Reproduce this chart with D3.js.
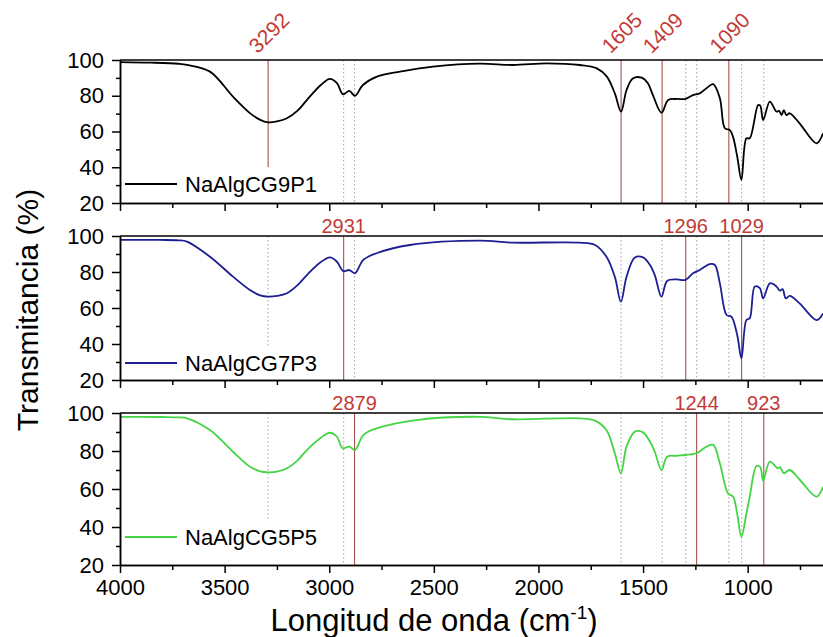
<!DOCTYPE html>
<html><head><meta charset="utf-8">
<script src="https://cdn.jsdelivr.net/npm/d3@7"></script>
<style>
body{margin:0;background:#fff}
svg{display:block}
text{font-family:"Liberation Sans", Arial, sans-serif}
</style>
</head><body><svg id="c" width="823" height="637"></svg>
<script>
// ---------- data ----------
const seriesNames = ["NaAlgCG9P1", "NaAlgCG7P3", "NaAlgCG5P5"];
const seriesColors = ["#000000", "#1e1e94", "#44d444"];

const wn1 = [4000,3850,3720,3680,3570,3460,3379,3330,3292,3250,3202,3150,3107,3040,2997,2963,2934,2904,2877,2839,2772,2662,2504,2280,2122,1960,1802,1721,1673,1635,1605,1579,1549,1507,1477,1453,1412,1380,1340,1297,1261,1229,1197,1165,1133,1109,1085,1070,1050,1030,1006,990,950,940,926,894,862,850,838,827,815,799,752,671,640];
const t1  = [98.8,98.5,97.9,97.3,93.5,79.5,70.3,66.5,65.1,65.6,67.4,71.8,77.6,86,89.4,87,80.8,82.7,80,86,90.7,93.5,96.3,98,97.2,98.1,97.2,95.3,90.7,81.3,71.1,83.2,89.7,90.1,87,80.4,70.5,77.6,78.2,78.2,80.4,81.3,84.2,86.5,78.6,61.8,60.8,57,46,32.9,56.2,56.2,74.8,74.5,66.4,76.7,71.1,71.5,69.2,72,69.2,70.2,64.6,53.4,59];

const wn2 = [4000,3809,3720,3680,3570,3460,3379,3330,3292,3250,3202,3150,3107,3040,2997,2963,2933,2904,2877,2837,2774,2614,2280,2122,1802,1730,1675,1635,1606,1579,1539,1500,1467,1444,1412,1385,1340,1297,1261,1229,1181,1157,1133,1101,1078,1050,1030,1006,990,966,942,926,894,862,846,833,818,799,752,671,640];
const t2  = [97.8,97.8,97.6,96.9,88.5,77.4,70,67,66.3,66.7,68.2,72.8,78.3,85.5,88.1,85.7,80.5,81.1,79.3,86.7,90.4,95,97.4,96.3,96.3,95,88.5,77.4,63.5,77.4,88.1,88.1,83.9,78.3,66.3,75,75.9,75.6,79.3,81.1,84.4,83.9,73.7,56.1,55.2,45,32,53.3,54.3,71.9,71,65.4,73.7,71.9,69.6,70.5,65.4,66.7,62.6,53.3,57];

const wn3 = [4000,3800,3720,3680,3570,3460,3379,3330,3292,3250,3202,3150,3107,3040,2997,2963,2936,2904,2877,2837,2774,2583,2280,2122,1802,1730,1675,1635,1606,1579,1539,1500,1467,1444,1412,1385,1340,1297,1245,1197,1165,1133,1094,1070,1050,1030,1006,990,958,940,926,894,855,845,827,799,752,671,640];
const t3  = [98,97.9,97.7,97.2,91,79.6,71.7,69.3,68.8,69.1,70.9,75.2,80.5,87,89.6,87.5,81.4,82.3,80.5,88.4,91.9,96.3,98,96.7,97.2,96,91,78.8,68.3,82.3,90.2,89.8,84.9,79.6,70,77,77.5,77.9,78.8,82.3,83.2,73.5,57.7,56,47,34.9,47.2,56,72.1,71.5,64.4,74.4,70.9,71.5,68.3,70,65,56,61.2];

// marked bands: each panel's own labelled peaks
const peaks1 = [3292, 1605, 1409, 1090];
const peaks2 = [2931, 1296, 1029];
const peaks3 = [2879, 1244, 923];

const xMajorTicks = [4000,3500,3000,2500,2000,1500,1000];
const xMinorTicks = [3750,3250,2750,2250,1750,1250,750];
const yMajorTicks = [20,40,60,80,100];
const yMinorTicks = [30,50,70,90];

const xLabel = "Longitud de onda (cm";
const yLabel = "Transmitancia (%)";

// ---------- layout ----------
const svg = d3.select("#c");
const X0 = 120, X1 = 823;
const x = d3.scaleLinear().domain([4000, 640]).range([X0, X1]);
const boxes = [[60, 203], [236, 380], [413, 565]];
const legendY = [184, 363, 537];
const lineFloor3292 = [40, 39, 44];

const allWn = [wn1, wn2, wn3], allT = [t1, t2, t3];
const allPeaks = [peaks1, peaks2, peaks3];
const everyPeak = [...peaks1, ...peaks2, ...peaks3];
const red = "#c23a36", redLine = "#a8504c";

boxes.forEach(([top, bottom], i) => {
  const y = d3.scaleLinear().domain([20, 100]).range([bottom, top]);
  const g = svg.append("g");

  const cid = "clip" + i;
  svg.append("clipPath").attr("id", cid).append("rect")
    .attr("x", X0).attr("y", top).attr("width", X1 - X0).attr("height", bottom - top);

  everyPeak.forEach(p => {
    const own = allPeaks[i].includes(p);
    const floor = p === 3292 ? lineFloor3292[i] : 20;
    g.append("line")
      .attr("x1", x(p)).attr("x2", x(p))
      .attr("y1", y(100)).attr("y2", y(floor))
      .attr("stroke", own ? redLine : "#9a9a9a")
      .attr("stroke-width", own ? 1.1 : 0.9)
      .attr("stroke-dasharray", own ? null : "1.5,2.5");
  });

  const pts = allWn[i].map((w, k) => [w, allT[i][k]]);
  g.append("path").datum(pts)
    .attr("clip-path", `url(#${cid})`)
    .attr("fill", "none")
    .attr("stroke", seriesColors[i])
    .attr("stroke-width", 1.8)
    .attr("stroke-linejoin", "round")
    .attr("d", d3.line().x(d => x(d[0])).y(d => y(d[1])).curve(d3.curveCatmullRom.alpha(0.5)));

  g.append("line").attr("x1", X0).attr("x2", X1).attr("y1", top).attr("y2", top)
    .attr("stroke", "#000").attr("stroke-width", 1.5);

  g.append("g").attr("transform", `translate(${X0},0)`)
    .call(d3.axisLeft(y).tickValues(yMajorTicks).tickSize(8).tickSizeOuter(0).tickPadding(8));
  g.append("g").attr("transform", `translate(${X0},0)`)
    .call(d3.axisLeft(y).tickValues(yMinorTicks).tickSize(4).tickSizeOuter(0).tickFormat(""));

  g.append("g").attr("transform", `translate(0,${bottom})`)
    .call(d3.axisBottom(x).tickValues(xMajorTicks).tickSize(8).tickSizeOuter(0).tickPadding(6)
      .tickFormat(i === 2 ? d3.format("d") : ""));
  g.append("g").attr("transform", `translate(0,${bottom})`)
    .call(d3.axisBottom(x).tickValues(xMinorTicks).tickSize(5).tickSizeOuter(0).tickFormat(""));

  g.selectAll(".domain").attr("stroke", "#000").attr("stroke-width", 1.5);
  g.selectAll(".tick line").attr("stroke", "#000").attr("stroke-width", 1.5);
  g.selectAll(".tick text").attr("font-size", 22).attr("fill", "#000")
    .attr("font-family", '"Liberation Sans", Arial, sans-serif');

  allPeaks[i].forEach(p => {
    if (i === 0) {
      g.append("text")
        .attr("transform", `translate(${x(p) + 6},${38}) rotate(-45)`)
        .attr("text-anchor", "middle")
        .attr("font-size", 21).attr("fill", red).text(p);
    } else {
      g.append("text").attr("x", x(p)).attr("y", top - 3)
        .attr("text-anchor", "middle")
        .attr("font-size", 20).attr("fill", red).text(p);
    }
  });

  g.append("line").attr("x1", 125).attr("x2", 177)
    .attr("y1", legendY[i]).attr("y2", legendY[i])
    .attr("stroke", seriesColors[i]).attr("stroke-width", 1.8);
  g.append("text").attr("x", 185).attr("y", legendY[i] + 8)
    .attr("font-size", 22).attr("fill", "#000").text(seriesNames[i]);
});

const xt = svg.append("text").attr("x", 434).attr("y", 631)
  .attr("text-anchor", "middle").attr("font-size", 31).attr("fill", "#000");
xt.append("tspan").text(xLabel);
xt.append("tspan").attr("font-size", 19).attr("dy", -12).text("-1");
xt.append("tspan").attr("dy", 12).text(")");

svg.append("text")
  .attr("transform", "translate(38,310) rotate(-90)")
  .attr("text-anchor", "middle").attr("font-size", 30).attr("fill", "#000")
  .text(yLabel);
</script>
</body></html>
